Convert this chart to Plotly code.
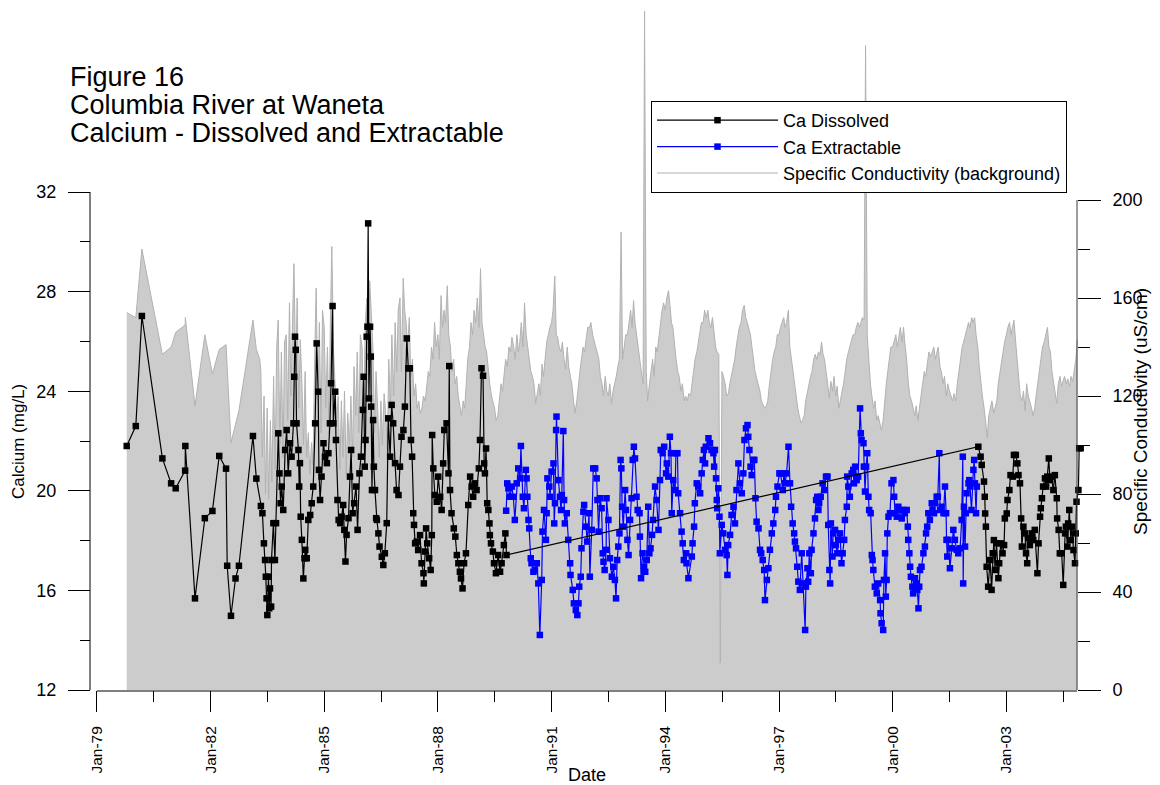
import plotly.graph_objects as go
import pandas as pd

FONT = "Liberation Sans, Arial, sans-serif"

# ---------------- data ----------------
# Ca Dissolved (mg/L): decimal year / value
dis_years = [1979.79, 1980.03, 1980.19, 1980.73, 1980.96, 1981.08, 1981.33, 1981.335, 1981.59, 1981.85,
             1982.05, 1982.23, 1982.41, 1982.44, 1982.54, 1982.66, 1982.75, 1983.12, 1983.21, 1983.33,
             1983.37, 1983.41, 1983.44, 1983.46, 1983.48, 1983.50, 1983.53, 1983.55, 1983.57, 1983.60,
             1983.61, 1983.66, 1983.70, 1983.73, 1983.79, 1983.82, 1983.85, 1983.88, 1983.92, 1983.97,
             1984.01, 1984.05, 1984.10, 1984.14, 1984.19, 1984.21, 1984.23, 1984.25, 1984.27, 1984.32,
             1984.34, 1984.36, 1984.38, 1984.41, 1984.45, 1984.48, 1984.50, 1984.54, 1984.58, 1984.63,
             1984.67, 1984.71, 1984.76, 1984.80, 1984.84, 1984.86, 1984.89, 1984.93, 1984.98, 1985.02,
             1985.07, 1985.11, 1985.15, 1985.18, 1985.22, 1985.24, 1985.29, 1985.31, 1985.35, 1985.38,
             1985.42, 1985.46, 1985.50, 1985.53, 1985.56, 1985.59, 1985.64, 1985.68, 1985.71, 1985.75,
             1985.79, 1985.84, 1985.88, 1985.93, 1985.97, 1986.02, 1986.04, 1986.07, 1986.09, 1986.12,
             1986.14, 1986.16, 1986.18, 1986.21, 1986.23, 1986.24, 1986.26, 1986.29, 1986.31, 1986.34,
             1986.37, 1986.39, 1986.43, 1986.46, 1986.52, 1986.56, 1986.60, 1986.65, 1986.69, 1986.74,
             1986.78, 1986.82, 1986.87, 1986.91, 1986.96, 1987.00, 1987.04, 1987.09, 1987.13, 1987.18,
             1987.22, 1987.26, 1987.29, 1987.32, 1987.35, 1987.37, 1987.40, 1987.44, 1987.48, 1987.53,
             1987.57, 1987.62, 1987.63, 1987.66, 1987.69, 1987.72, 1987.77, 1987.81, 1987.84, 1987.85,
             1987.88, 1987.92, 1987.97, 1988.01, 1988.06, 1988.10, 1988.14, 1988.17, 1988.23, 1988.28,
             1988.30, 1988.32, 1988.36, 1988.42, 1988.46, 1988.50, 1988.54, 1988.58, 1988.61, 1988.65,
             1988.69, 1988.74, 1988.80, 1988.85, 1988.89, 1988.93, 1988.98, 1989.02, 1989.08, 1989.11,
             1989.15, 1989.19, 1989.22, 1989.24, 1989.27, 1989.30, 1989.33, 1989.36, 1989.37, 1989.40,
             1989.45, 1989.48, 1989.53, 1989.59, 1989.64, 1989.68, 1989.74, 1989.78, 1989.81,
             2002.26, 2002.32, 2002.35, 2002.41, 2002.43, 2002.44, 2002.46, 2002.48, 2002.52, 2002.57,
             2002.61, 2002.64, 2002.67, 2002.70, 2002.74, 2002.79, 2002.81, 2002.85, 2002.90, 2002.94,
             2002.96, 2003.01, 2003.03, 2003.08, 2003.11, 2003.17, 2003.20, 2003.25, 2003.29, 2003.32,
             2003.36, 2003.39, 2003.41, 2003.45, 2003.49, 2003.52, 2003.55, 2003.58, 2003.62, 2003.67,
             2003.71, 2003.75, 2003.82, 2003.85, 2003.89, 2003.91, 2003.94, 2003.97, 2004.02, 2004.05,
             2004.08, 2004.12, 2004.15, 2004.19, 2004.24, 2004.28, 2004.33, 2004.34, 2004.38, 2004.41,
             2004.46, 2004.50, 2004.55, 2004.57, 2004.61, 2004.63, 2004.66, 2004.70, 2004.73, 2004.77,
             2004.81, 2004.83, 2004.85, 2004.90, 2004.92, 2004.96]
dis_ca = [21.80, 22.60, 27.02, 21.30, 20.30, 20.10, 20.81, 21.80, 15.68, 18.90,
          19.19, 21.40, 20.89, 16.99, 14.98, 16.48, 16.99, 22.20, 20.49, 19.39,
          19.10, 17.89, 17.22, 16.55, 15.68, 15.01, 16.55, 15.28, 16.08, 15.35,
          17.22, 18.70, 17.22, 18.70, 22.31, 20.70, 19.50, 20.17, 19.23, 21.64,
          22.44, 20.70, 21.91, 21.37, 22.71, 24.58, 26.19, 25.66, 22.71, 21.64,
          20.17, 21.11, 18.96, 18.03, 16.48, 17.29, 17.63, 17.29, 18.83, 19.03,
          19.50, 20.17, 22.71, 25.92, 23.98, 20.84, 19.63, 20.57, 21.91, 21.37,
          21.11, 21.51, 22.71, 24.32, 27.42, 22.71, 23.98, 22.04, 19.63, 18.83,
          18.70, 18.96, 19.43, 18.43, 17.16, 18.23, 18.90, 20.57, 21.64, 19.10,
          19.50, 20.17, 18.43, 20.70, 21.37, 23.25, 24.58, 20.97, 22.04, 26.19,
          26.59, 30.74, 23.71, 26.59, 25.39, 23.38, 20.03, 22.84, 20.97, 20.03,
          18.90, 18.83, 18.29, 17.76, 17.35, 17.02, 17.49, 18.70, 22.91, 21.37,
          23.45, 22.71, 21.11, 20.03, 19.83, 20.97, 22.17, 22.44, 23.38, 26.12,
          24.92, 24.92, 22.04, 21.37, 19.10, 18.63, 17.89, 17.96, 17.62, 18.22,
          17.09, 16.69, 16.28, 17.56, 18.49, 17.89, 17.29, 16.82, 18.22, 22.24,
          20.90, 19.83, 19.56, 20.57, 19.76, 19.23, 21.10, 22.44, 22.71, 20.70,
          25.01, 20.03, 19.10, 18.49, 18.16, 17.42, 17.09, 16.75, 16.48, 16.08,
          17.09, 17.49, 19.43, 20.57, 20.17, 19.76, 20.30, 20.03, 20.90, 22.04,
          24.92, 24.62, 21.10, 20.70, 21.70, 19.50, 19.23, 18.69, 18.22, 17.89,
          17.56, 17.09, 16.69, 17.42, 16.75, 17.09, 17.82, 18.29, 17.42,
          21.77, 21.37, 21.04, 20.37, 19.76, 19.09, 18.56, 16.95, 16.15, 17.22,
          16.02, 17.49, 18.02, 16.82, 17.89, 16.49, 17.09, 17.89, 17.49, 17.82,
          18.89, 19.09, 19.63, 20.03, 20.63, 20.57, 21.44, 21.44, 21.10, 20.63,
          20.30, 18.89, 17.76, 18.56, 18.29, 17.49, 17.09, 18.09, 17.82, 18.29,
          18.02, 18.43, 16.69, 17.89, 18.96, 19.30, 19.70, 20.17, 20.50, 20.17,
          20.57, 21.30, 20.43, 20.57, 20.03, 20.63, 19.70, 18.89, 18.43, 17.49,
          17.49, 16.22, 18.29, 18.56, 17.76, 18.69, 19.23, 18.02, 18.56, 17.62,
          17.09, 18.29, 19.56, 20.03, 21.71, 21.71]

# Ca Extractable (mg/L)
ext_years = [1989.80, 1989.83, 1989.86, 1989.90, 1989.95, 1989.99, 1990.03, 1990.08, 1990.12, 1990.17,
             1990.19, 1990.24, 1990.27, 1990.32, 1990.34, 1990.36, 1990.39, 1990.41, 1990.45, 1990.47,
             1990.52, 1990.56, 1990.61, 1990.65, 1990.69, 1990.74, 1990.76, 1990.80, 1990.85, 1990.87,
             1990.89, 1990.94, 1990.96, 1991.00, 1991.05, 1991.07, 1991.09, 1991.12, 1991.13, 1991.18,
             1991.22, 1991.25, 1991.27, 1991.31, 1991.33, 1991.35, 1991.40, 1991.44, 1991.49, 1991.50,
             1991.56, 1991.59, 1991.64, 1991.68, 1991.71, 1991.73, 1991.77, 1991.79, 1991.84, 1991.86,
             1991.91, 1991.94, 1991.99, 1992.01, 1992.06, 1992.10, 1992.15, 1992.19, 1992.21, 1992.24,
             1992.28, 1992.32, 1992.35, 1992.37, 1992.40, 1992.44, 1992.45, 1992.50, 1992.54, 1992.59,
             1992.63, 1992.67, 1992.70, 1992.73, 1992.76, 1992.79, 1992.82, 1992.84, 1992.86, 1992.89,
             1992.94, 1992.96, 1993.00, 1993.03, 1993.07, 1993.11, 1993.14, 1993.17, 1993.20, 1993.24,
             1993.27, 1993.32, 1993.33, 1993.36, 1993.40, 1993.44, 1993.47, 1993.51, 1993.55, 1993.58,
             1993.61, 1993.65, 1993.68, 1993.73, 1993.77, 1993.82, 1993.86, 1993.88, 1993.93, 1993.97,
             1994.02, 1994.04, 1994.08, 1994.12, 1994.15, 1994.17, 1994.21, 1994.26, 1994.28, 1994.32,
             1994.34, 1994.39, 1994.43, 1994.46, 1994.49, 1994.55, 1994.56, 1994.61, 1994.70, 1994.72,
             1994.76, 1994.78, 1994.83, 1994.87, 1994.92, 1994.96, 1994.99, 1995.02, 1995.05, 1995.07,
             1995.14, 1995.18, 1995.22, 1995.27, 1995.29, 1995.31, 1995.34, 1995.36, 1995.37, 1995.40,
             1995.43, 1995.44, 1995.49, 1995.53, 1995.58, 1995.62, 1995.64, 1995.66, 1995.71, 1995.75,
             1995.80, 1995.84, 1995.88, 1995.93, 1995.97, 1996.02, 1996.06, 1996.09, 1996.13, 1996.17,
             1996.19, 1996.22, 1996.25, 1996.28, 1996.32, 1996.35, 1996.38, 1996.41, 1996.46, 1996.50,
             1996.53, 1996.57, 1996.61, 1996.63, 1996.68, 1996.72, 1996.76, 1996.81, 1996.85, 1996.90,
             1996.92, 1996.96, 1997.01, 1997.04, 1997.10, 1997.13, 1997.16, 1997.20, 1997.25, 1997.29,
             1997.32, 1997.36, 1997.40, 1997.42, 1997.45, 1997.48, 1997.51, 1997.55, 1997.60, 1997.64,
             1997.69, 1997.71, 1997.75, 1997.77, 1997.80, 1997.84, 1997.86, 1997.91, 1997.95, 1997.98,
             1998.01, 1998.04, 1998.06, 1998.10, 1998.15, 1998.20, 1998.24, 1998.28, 1998.30, 1998.33,
             1998.35, 1998.37, 1998.41, 1998.43, 1998.48, 1998.50, 1998.54, 1998.57, 1998.61, 1998.65,
             1998.68, 1998.72, 1998.74, 1998.79, 1998.80, 1998.83, 1998.87, 1998.92, 1998.96, 1998.98,
             1999.01, 1999.05, 1999.09, 1999.14, 1999.16, 1999.18, 1999.23, 1999.24, 1999.27, 1999.30,
             1999.33, 1999.36, 1999.38, 1999.42, 1999.45, 1999.47, 1999.49, 1999.53, 1999.58, 1999.62,
             1999.67, 1999.68, 1999.71, 1999.75, 1999.77, 1999.80, 1999.82, 1999.84, 1999.86, 1999.89,
             1999.93, 1999.97, 2000.02, 2000.04, 2000.06, 2000.11, 2000.15, 2000.19, 2000.24, 2000.28,
             2000.32, 2000.37, 2000.40, 2000.41, 2000.44, 2000.46, 2000.48, 2000.52, 2000.54, 2000.59,
             2000.62, 2000.65, 2000.68, 2000.70, 2000.72, 2000.76, 2000.81, 2000.85, 2000.88, 2000.91,
             2000.94, 2000.98, 2001.03, 2001.05, 2001.09, 2001.12, 2001.16, 2001.19, 2001.23, 2001.25,
             2001.29, 2001.34, 2001.38, 2001.41, 2001.42, 2001.44, 2001.47, 2001.51, 2001.56, 2001.60,
             2001.64, 2001.69, 2001.73, 2001.78, 2001.82, 2001.85, 2001.86, 2001.88, 2001.91, 2001.93,
             2001.95, 2002.00, 2002.02, 2002.04, 2002.08, 2002.13, 2002.15, 2002.17, 2002.20, 2002.22]
ext_ca = [19.20, 20.30, 20.10, 19.76, 20.17, 19.76, 18.83, 20.30, 20.90, 20.50,
          21.80, 19.76, 19.30, 20.84, 20.50, 19.76, 18.83, 18.49, 17.29, 17.09,
          16.75, 16.82, 17.09, 16.28, 14.21, 16.42, 18.36, 19.23, 18.03, 19.10,
          20.50, 20.17, 19.76, 20.77, 21.10, 18.69, 19.50, 22.44, 22.98, 20.43,
          19.76, 19.23, 19.83, 22.40, 19.63, 18.69, 19.10, 18.03, 17.09, 16.62,
          16.02, 15.48, 15.21, 15.01, 15.48, 16.15, 16.55, 17.69, 19.16, 19.43,
          18.56, 17.96, 19.10, 16.55, 18.43, 20.90, 20.90, 20.50, 19.63, 18.36,
          19.70, 19.30, 17.49, 17.15, 16.82, 17.63, 19.70, 18.83, 17.29, 16.55,
          16.95, 16.42, 15.68, 17.22, 17.76, 18.29, 21.24, 20.90, 19.36, 18.56,
          20.03, 19.23, 18.03, 17.42, 18.83, 19.70, 21.24, 21.77, 21.30, 19.76,
          19.23, 19.10, 18.16, 16.49, 17.49, 16.95, 16.75, 17.22, 19.36, 17.49,
          17.69, 18.23, 18.83, 20.17, 19.63, 18.43, 20.43, 21.64, 21.51, 21.77,
          20.70, 21.10, 20.57, 22.17, 21.51, 19.10, 20.43, 20.03, 21.51, 21.51,
          19.90, 19.10, 18.36, 17.89, 17.22, 17.49, 17.09, 16.49, 17.36, 17.89,
          18.56, 19.50, 20.30, 20.17, 19.90, 20.70, 21.24, 21.64, 21.10, 21.77,
          22.11, 21.91, 21.64, 21.51, 20.97, 21.64, 20.50, 19.63, 19.30, 20.10,
          18.96, 17.49, 18.63, 18.29, 17.63, 17.42, 16.62, 17.82, 18.23, 19.03,
          19.36, 18.69, 20.03, 21.10, 20.30, 19.90, 20.70, 22.04, 22.51, 22.64,
          22.17, 21.64, 20.97, 20.63, 21.24, 21.24, 19.70, 18.76, 18.49, 17.63,
          17.49, 17.22, 16.82, 15.61, 16.42, 16.89, 17.63, 18.29, 18.69, 19.23,
          19.76, 20.17, 20.70, 20.70, 20.03, 20.70, 20.30, 20.70, 21.77, 20.30,
          19.36, 18.69, 18.29, 17.96, 17.69, 16.95, 16.35, 16.02, 17.49, 16.28,
          14.41, 16.15, 16.89, 16.35, 17.49, 16.69, 17.63, 18.29, 18.89, 19.63,
          19.76, 19.23, 19.50, 19.76, 20.30, 20.03, 20.57, 20.57, 18.63, 16.82,
          16.28, 18.69, 17.36, 18.29, 18.43, 17.82, 17.49, 18.03, 18.29, 17.09,
          17.49, 18.03, 18.83, 19.36, 20.57, 20.17, 19.76, 20.70, 20.84, 20.30,
          20.97, 20.43, 20.57, 23.31, 22.31, 22.04, 21.91, 20.97, 19.97, 20.97,
          21.51, 19.76, 19.23, 19.10, 17.42, 17.22, 16.82, 16.15, 15.88, 16.28,
          15.61, 15.08, 14.68, 14.41, 16.42, 17.49, 15.75, 16.42, 18.29, 18.96,
          19.10, 20.30, 20.43, 19.76, 19.10, 18.96, 19.36, 19.23, 18.89, 19.23,
          19.10, 19.23, 18.56, 18.03, 17.49, 16.95, 16.55, 16.15, 15.88, 16.49,
          16.28, 16.02, 15.28, 16.15, 16.82, 16.95, 17.49, 17.76, 18.29, 18.56,
          19.10, 18.83, 19.50, 19.23, 19.10, 19.50, 19.76, 19.76, 21.51, 19.23,
          19.36, 19.10, 20.17, 19.10, 18.03, 17.36, 18.03, 16.89, 17.69, 18.43,
          18.03, 17.63, 17.49, 17.69, 18.83, 21.37, 16.28, 19.36, 17.76, 19.10,
          19.90, 20.30, 20.43, 20.17, 19.23, 20.84, 21.24, 20.30, 19.10, 20.17]

# Specific conductivity (uS/cm): sparse early record
cond_early_years = [1979.79, 1980.03, 1980.19, 1980.73, 1980.96, 1981.08, 1981.33, 1981.335, 1981.59,
                    1981.85, 1982.05, 1982.23, 1982.41, 1982.54, 1982.75, 1983.12, 1983.21, 1983.30]
cond_early = [154, 152, 180, 137, 140, 146, 149, 152, 116,
              145, 129, 139, 141, 101, 114, 151, 139, 135]
# semi-monthly record, starting 1983-05-01
cond_1983 = [130, 95, 120, 80, 115, 78, 110, 85, 128, 90, 140, 151, 100, 138, 95, 142]
cond_1984 = [145, 110, 158, 120, 150, 174, 130, 160, 115, 143, 124, 100, 130, 95, 105, 88, 101, 92, 135, 164, 118, 150, 105, 155]
cond_1985 = [148, 115, 140, 105, 150, 181, 138, 125, 110, 120, 90, 118, 95, 122, 88, 113, 100, 120, 95, 132, 112, 138, 105, 145]
cond_1986 = [140, 110, 150, 160, 125, 167, 150, 140, 105, 130, 114, 95, 118, 100, 121, 114, 98, 135, 115, 145, 120, 150, 130, 155]
cond_1987 = [160, 130, 168, 155, 150, 140, 152, 128, 135, 120, 125, 115, 118, 113, 115, 120, 118, 125, 130, 128, 140, 135, 150, 140]
cond_1988 = [145, 135, 161, 148, 155, 150, 165, 145, 140, 130, 135, 125, 128, 120, 115, 112, 118, 115, 125, 135, 140, 150, 145, 155]
cond_1989 = [150, 160, 148, 172, 150, 145, 140, 138, 130, 125, 120, 118, 115, 110, 112, 118, 125, 122, 130, 135, 132, 140, 138, 144]
cond_1990 = [140, 135, 145, 138, 142, 150, 140, 158, 145, 140, 135, 130, 128, 125, 117, 120, 125, 120, 133, 128, 138, 142, 145, 148]
cond_1991 = [150, 155, 169, 145, 144, 140, 138, 142, 135, 131, 140, 132, 128, 125, 118, 113, 118, 125, 130, 135, 140, 138, 145, 148]
cond_1992 = [148, 150, 145, 142, 140, 138, 135, 128, 125, 120, 128, 122, 120, 125, 117, 122, 125, 128, 132, 135, 187, 135, 140, 145]
cond_1993 = [145, 150, 155, 148, 159, 150, 145, 140, 135, 130, 125, 277, 130, 118, 125, 130, 135, 128, 140, 138, 145, 150, 155, 158]
cond_1994 = [155, 160, 163, 157, 150, 148, 140, 135, 130, 128, 122, 125, 118, 120, 118, 121, 120, 125, 130, 135, 138, 142, 148, 150]
cond_1995 = [150, 155, 152, 155, 150, 148, 152, 145, 140, 138, 137, 11, 130, 128, 125, 120, 121, 125, 128, 132, 135, 140, 145, 148]
cond_1996 = [150, 155, 157, 152, 150, 148, 145, 140, 135, 130, 127, 125, 122, 118, 116, 115, 116, 118, 125, 130, 135, 138, 140, 145]
cond_1997 = [145, 148, 150, 152, 148, 150, 155, 140, 135, 130, 125, 120, 115, 112, 109, 110, 112, 118, 122, 125, 128, 130, 135, 137]
cond_1998 = [135, 138, 137, 142, 137, 135, 128, 125, 119, 126, 122, 128, 120, 124, 115, 118, 122, 125, 130, 135, 138, 140, 142, 145]
cond_1999 = [145, 148, 150, 148, 150, 152, 151, 263, 145, 135, 125, 120, 115, 118, 110, 112, 108, 106, 110, 118, 125, 130, 135, 140]
cond_2000 = [140, 142, 145, 140, 145, 148, 142, 148, 140, 135, 125, 120, 118, 115, 112, 116, 110, 115, 120, 125, 130, 128, 135, 138]
cond_2001 = [136, 138, 140, 135, 138, 140, 132, 130, 125, 128, 120, 125, 122, 120, 118, 121, 118, 125, 130, 135, 140, 142, 145, 148]
cond_2002 = [150, 148, 152, 150, 152, 145, 140, 132, 125, 120, 115, 110, 103, 112, 115, 118, 113, 116, 118, 125, 130, 135, 140, 142]
cond_2003 = [145, 148, 150, 145, 148, 151, 142, 135, 125, 120, 118, 122, 114, 125, 120, 118, 115, 112, 115, 120, 125, 130, 135, 140]
cond_2004 = [142, 145, 148, 140, 138, 130, 125, 122, 117, 125, 128, 124, 126, 128, 125, 127, 124, 128, 126, 130, 135, 143]

x_tick_years = [1979, 1982, 1985, 1988, 1991, 1994, 1997, 2000, 2003]
x_tick_text = ["Jan-79", "Jan-82", "Jan-85", "Jan-88", "Jan-91", "Jan-94", "Jan-97", "Jan-00", "Jan-03"]
ca_ticks = [12, 16, 20, 24, 28, 32]
ca_minor = [14, 18, 22, 26, 30]
cond_ticks = [0, 40, 80, 120, 160, 200]
cond_minor = [20, 60, 100, 140, 180]

# ---------------- helpers ----------------
def dec2dt(v):
    y = int(v)
    s = pd.Timestamp(year=y, month=1, day=1)
    e = pd.Timestamp(year=y + 1, month=1, day=1)
    return s + (e - s) * (v - y)

# The page body adds an 8 px margin around the figure; positions below are
# screenshot pixels, converted to figure coordinates.
OFF = 8
W, H = 1160, 785
PLOT_L, PLOT_R, PLOT_T, PLOT_B = 90, 1090, 8, 690     # screenshot px
ML, MR = PLOT_L - OFF, W - (PLOT_R - OFF)
MT, MB = PLOT_T - OFF, H - (PLOT_B - OFF)
PW, PH = PLOT_R - PLOT_L, PLOT_B - PLOT_T


def px_x(px):
    return (px - PLOT_L) / PW


def px_y(py):
    return (PLOT_B - py) / PH


dis_x = [dec2dt(v) for v in dis_years]
ext_x = [dec2dt(v) for v in ext_years]
cond_dense = (cond_1983 + cond_1984 + cond_1985 + cond_1986 + cond_1987 + cond_1988 + cond_1989 +
              cond_1990 + cond_1991 + cond_1992 + cond_1993 + cond_1994 + cond_1995 + cond_1996 +
              cond_1997 + cond_1998 + cond_1999 + cond_2000 + cond_2001 + cond_2002 + cond_2003 + cond_2004)
cond_dense_x = list(pd.date_range("1983-05-01", periods=len(cond_dense), freq="SMS"))
cond_x = [dec2dt(v) for v in cond_early_years] + cond_dense_x
cond_y = cond_early + cond_dense

# axis geometry (pixels measured on the reference)
X0_PX = 96.8          # Jan-79
PX_PER_YEAR = 37.9
RIGHT_AXIS_PX = 1077
x_start = dec2dt(1979.0)
x_end = dec2dt(1979.0 + (PLOT_R - X0_PX) / PX_PER_YEAR)
x_axis_end = dec2dt(1979.0 + (RIGHT_AXIS_PX - X0_PX) / PX_PER_YEAR)
ca_top = 12 + PH / 24.9          # 24.9 px per mg/L
cond_top = PH / 2.45             # 2.45 px per uS/cm

GRAY_FILL = "rgb(204,204,204)"
GRAY_LINE = "rgb(178,178,178)"

fig = go.Figure()
fig.add_trace(go.Scatter(x=cond_x, y=cond_y, mode="lines", fill="tozeroy",
                         fillcolor=GRAY_FILL, line=dict(color=GRAY_LINE, width=1),
                         yaxis="y", showlegend=False, hoverinfo="skip"))
fig.add_trace(go.Scatter(x=[None], y=[None], mode="lines", line=dict(color=GRAY_LINE, width=1),
                         name="Specific Conductivity (background)", yaxis="y", legendrank=3))
fig.add_trace(go.Scatter(x=ext_x, y=ext_ca, mode="lines+markers", name="Ca Extractable",
                         line=dict(color="rgb(0,0,255)", width=1.2),
                         marker=dict(symbol="square", size=6.5, color="rgb(0,0,255)"),
                         yaxis="y2", cliponaxis=False, legendrank=2))
fig.add_trace(go.Scatter(x=dis_x, y=dis_ca, mode="lines+markers", name="Ca Dissolved",
                         line=dict(color="black", width=1.2),
                         marker=dict(symbol="square", size=6.5, color="black"),
                         yaxis="y2", cliponaxis=False, legendrank=1))

tick_font = dict(family=FONT, size=18, color="black")

fig.update_layout(
    template="none",
    width=W, height=H,
    margin=dict(l=ML, r=MR, t=MT, b=MB, pad=0, autoexpand=False),
    paper_bgcolor="white", plot_bgcolor="white",
    showlegend=True,
    xaxis=dict(
        type="date", domain=[px_x(X0_PX), 1], range=[x_start, x_end], anchor="y",
        showgrid=False, zeroline=False, showline=False, automargin=False,
        tickmode="array", tickvals=[dec2dt(v) for v in x_tick_years], ticktext=x_tick_text,
        ticks="outside", ticklen=21, tickwidth=1, tickcolor="black", tickangle=-90,
        ticklabelstandoff=8,
        tickfont=dict(family=FONT, size=15.5, color="black"),
        minor=dict(tickvals=[dec2dt(v + 1.5) for v in x_tick_years], ticks="outside",
                   ticklen=11, tickwidth=1, tickcolor="black"),
    ),
    yaxis=dict(
        range=[0, cond_top], side="right", anchor="free", position=px_x(RIGHT_AXIS_PX),
        showgrid=False, zeroline=False, showline=False, automargin=False,
        tickmode="array", tickvals=cond_ticks, ticks="outside", ticklen=23, tickwidth=1,
        tickcolor="black", ticklabelstandoff=8, tickfont=tick_font,
        minor=dict(tickvals=cond_minor, ticks="outside", ticklen=12, tickwidth=1, tickcolor="black"),
    ),
    yaxis2=dict(
        range=[12, ca_top], side="left", overlaying="y", anchor="free", position=0,
        showgrid=False, zeroline=False, showline=False, automargin=False,
        tickmode="array", tickvals=ca_ticks, ticks="outside", ticklen=22, tickwidth=1,
        tickcolor="black", ticklabelstandoff=8, tickfont=tick_font,
        minor=dict(tickvals=ca_minor, ticks="outside", ticklen=10, tickwidth=1, tickcolor="black"),
    ),
    legend=dict(
        x=px_x(651), y=px_y(101), xanchor="left", yanchor="top",
        bgcolor="white", bordercolor="black", borderwidth=1,
        font=dict(family=FONT, size=18, color="black"),
        itemwidth=121, tracegroupgap=0, traceorder="normal",
    ),
    shapes=[
        # left (Calcium) axis line
        dict(type="line", xref="paper", yref="y2", x0=0, x1=0, y0=12, y1=32,
             line=dict(color="black", width=1), layer="above"),
        # bottom (Date) axis line
        dict(type="line", xref="x", yref="paper", x0=x_start, x1=x_axis_end,
             y0=px_y(691), y1=px_y(691), line=dict(color="black", width=1), layer="above"),
        # right (conductivity) axis line
        dict(type="line", xref="paper", yref="y", x0=px_x(RIGHT_AXIS_PX), x1=px_x(RIGHT_AXIS_PX),
             y0=0, y1=200, line=dict(color="rgb(60,60,60)", width=1), layer="above"),
    ],
    annotations=[
        dict(text="Figure 16", xref="paper", yref="paper", x=px_x(68), y=px_y(77),
             xanchor="left", yanchor="middle", showarrow=False,
             font=dict(family=FONT, size=27, color="black")),
        dict(text="Columbia River at Waneta", xref="paper", yref="paper", x=px_x(68), y=px_y(105),
             xanchor="left", yanchor="middle", showarrow=False,
             font=dict(family=FONT, size=27, color="black")),
        dict(text="Calcium - Dissolved and Extractable", xref="paper", yref="paper", x=px_x(68),
             y=px_y(133), xanchor="left", yanchor="middle", showarrow=False,
             font=dict(family=FONT, size=27, color="black")),
        dict(text="Calcium (mg/L)", xref="paper", yref="paper", x=px_x(18), y=px_y(442),
             xanchor="center", yanchor="middle", textangle=-90, showarrow=False,
             font=dict(family=FONT, size=17, color="black")),
        dict(text="Specific Conductivity (uS/cm)", xref="paper", yref="paper", x=px_x(1141),
             y=px_y(412), xanchor="center", yanchor="middle", textangle=-90, showarrow=False,
             font=dict(family=FONT, size=19, color="black")),
        dict(text="Date", xref="paper", yref="paper", x=px_x(587), y=px_y(775),
             xanchor="center", yanchor="middle", showarrow=False,
             font=dict(family=FONT, size=18, color="black")),
    ],
)

fig.write_html("out.html")
